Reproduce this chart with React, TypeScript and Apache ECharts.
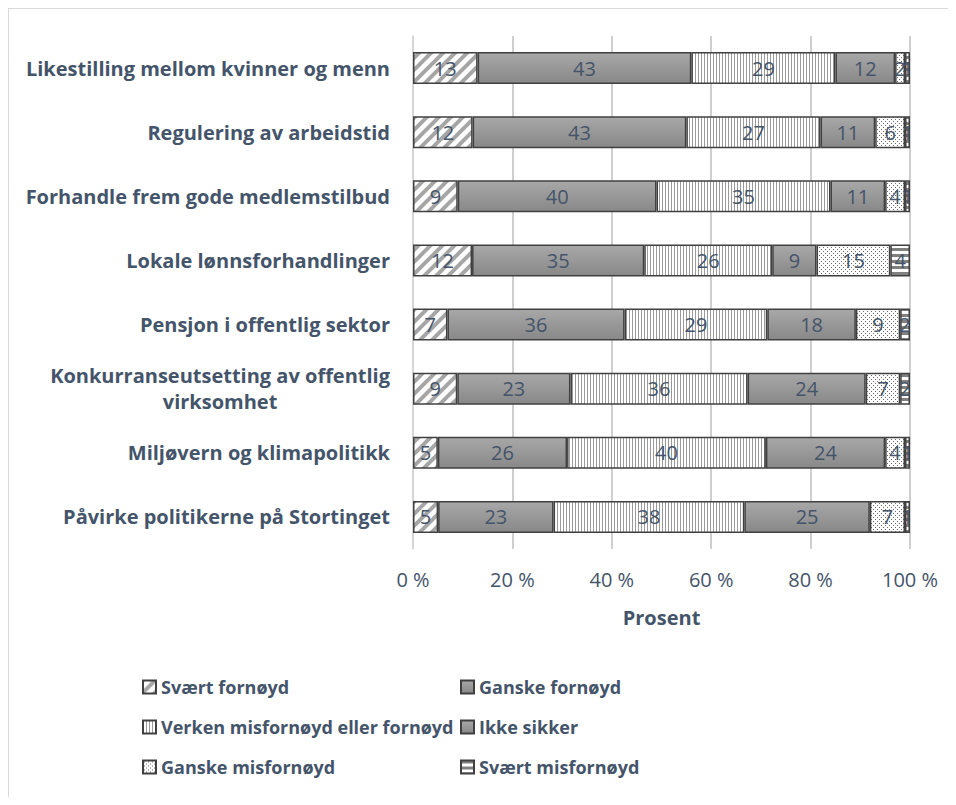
import React, { useEffect, useRef } from "react";
import * as echarts from "echarts";

const categories = [
  "Likestilling mellom kvinner og menn",
  "Regulering av arbeidstid",
  "Forhandle frem gode medlemstilbud",
  "Lokale lønnsforhandlinger",
  "Pensjon i offentlig sektor",
  "Konkurranseutsetting av offentlig\nvirksomhet",
  "Miljøvern og klimapolitikk",
  "Påvirke politikerne på Stortinget",
];

const seriesNames = [
  "Svært fornøyd",
  "Ganske fornøyd",
  "Verken misfornøyd eller fornøyd",
  "Ikke sikker",
  "Ganske misfornøyd",
  "Svært misfornøyd",
];

const svaertFornoyd = [13, 12, 9, 12, 7, 9, 5, 5];
const ganskeFornoyd = [43, 43, 40, 35, 36, 23, 26, 23];
const verken = [29, 27, 35, 26, 29, 36, 40, 38];
const ikkeSikker = [12, 11, 11, 9, 18, 24, 24, 25];
const ganskeMisfornoyd = [2, 6, 4, 15, 9, 7, 4, 7];
const svaertMisfornoyd = [1, 1, 1, 4, 2, 2, 1, 1];

const xTicks = [0, 20, 40, 60, 80, 100];

const TEXT = "#44546A";
const FONT = "Open Sans";

function makeCanvas(w: number, h: number, draw: (ctx: CanvasRenderingContext2D) => void) {
  const c = document.createElement("canvas");
  c.width = w;
  c.height = h;
  const ctx = c.getContext("2d")!;
  ctx.fillStyle = "#ffffff";
  ctx.fillRect(0, 0, w, h);
  draw(ctx);
  return c;
}

export default function App() {
  const ref = useRef<HTMLDivElement>(null);

  useEffect(() => {
    if (!ref.current) return;
    const chart = echarts.init(ref.current, undefined, { renderer: "svg" });

    const diag = makeCanvas(12, 12, (ctx) => {
      ctx.strokeStyle = "#a6a6a6";
      ctx.lineWidth = 4;
      ctx.lineCap = "square";
      for (const o of [-12, 0, 12]) {
        ctx.beginPath();
        ctx.moveTo(o - 2, 14);
        ctx.lineTo(o + 14, -2);
        ctx.stroke();
      }
    });
    const vert = makeCanvas(3, 4, (ctx) => {
      ctx.fillStyle = "#9a9a9a";
      ctx.fillRect(0, 0, 1, 4);
    });
    const dots = makeCanvas(4, 4, (ctx) => {
      ctx.fillStyle = "#6a6a6a";
      ctx.fillRect(1, 1, 1, 1);
      ctx.fillRect(3, 3, 1, 1);
    });
    const horiz = makeCanvas(4, 6, (ctx) => {
      ctx.fillStyle = "#808080";
      ctx.fillRect(0, 0, 4, 3);
    });
    const grayGrad = () =>
      new echarts.graphic.LinearGradient(0, 0, 0, 1, [
        { offset: 0, color: "#a8a8a8" },
        { offset: 1, color: "#888888" },
      ]);

    const fills: any[] = [
      { image: diag, repeat: "repeat" },
      grayGrad(),
      { image: vert, repeat: "repeat" },
      grayGrad(),
      { image: dots, repeat: "repeat" },
      { image: horiz, repeat: "repeat" },
    ];

    const raw = [svaertFornoyd, ganskeFornoyd, verken, ikkeSikker, ganskeMisfornoyd, svaertMisfornoyd];
    const totals = categories.map((_, i) => raw.reduce((s, arr) => s + arr[i], 0));

    const series = raw.map((arr, si) => ({
      name: seriesNames[si],
      type: "bar",
      stack: "total",
      barCategoryGap: "50%",
      data: arr.map((v, i) => (v / totals[i]) * 100),
      itemStyle: {
        color: fills[si],
        borderColor: "#404040",
        borderWidth: 1.5,
      },
      label: {
        show: true,
        position: "inside",
        color: TEXT,
        fontFamily: FONT,
        fontSize: 20,
        overflow: "none",
        formatter: (p: any) => String(arr[p.dataIndex]),
      },
      labelLayout: { hideOverlap: false },
    }));

    const legendText = { color: TEXT, fontSize: 18, fontWeight: "bold", fontFamily: FONT };

    chart.setOption({
      animation: false,
      textStyle: { fontFamily: FONT },
      grid: { left: 405, top: 28, width: 497, height: 513 },
      xAxis: {
        type: "value",
        min: xTicks[0],
        max: xTicks[xTicks.length - 1],
        interval: 20,
        axisLine: { show: false },
        axisTick: { show: false },
        splitLine: { show: true, lineStyle: { color: "#bfbfbf", width: 1.5 } },
        axisLabel: {
          color: TEXT,
          fontSize: 20,
          fontFamily: FONT,
          margin: 20,
          formatter: (v: number) => `${v} %`,
        },
        name: "Prosent",
        nameLocation: "middle",
        nameGap: 58,
        nameTextStyle: { color: TEXT, fontSize: 20, fontWeight: "bold", fontFamily: FONT },
      },
      yAxis: {
        type: "category",
        inverse: true,
        data: categories,
        axisTick: { show: false },
        axisLine: { show: true, lineStyle: { color: "#d9d9d9", width: 1.5 } },
        axisLabel: {
          margin: 23,
          formatter: (v: string) => v.split("\n").map((l) => `{c|${l}}`).join("\n"),
          rich: {
            c: {
              align: "center",
              color: TEXT,
              fontSize: 20,
              fontWeight: "bold",
              fontFamily: FONT,
              lineHeight: 26,
            },
          },
        },
      },
      legend: [
        {
          orient: "vertical",
          left: 134,
          top: 670,
          padding: 0,
          itemWidth: 13,
          itemHeight: 13,
          itemGap: 22,
          icon: "rect",
          data: [seriesNames[0], seriesNames[2], seriesNames[4]],
          textStyle: legendText,
        },
        {
          orient: "vertical",
          left: 452,
          top: 670,
          padding: 0,
          itemWidth: 13,
          itemHeight: 13,
          itemGap: 22,
          icon: "rect",
          data: [seriesNames[1], seriesNames[3], seriesNames[5]],
          textStyle: legendText,
        },
      ],
      graphic: [
        { type: "line", shape: { x1: 0, y1: 0.5, x2: 940, y2: 0.5 }, style: { stroke: "#d9d9d9", lineWidth: 1 } },
        { type: "line", shape: { x1: 0.5, y1: 0, x2: 0.5, y2: 789 }, style: { stroke: "#d9d9d9", lineWidth: 1 } },
      ],
      series,
    });

    return () => chart.dispose();
  }, []);

  return <div ref={ref} style={{ width: 940, height: 789 }} />;
}
